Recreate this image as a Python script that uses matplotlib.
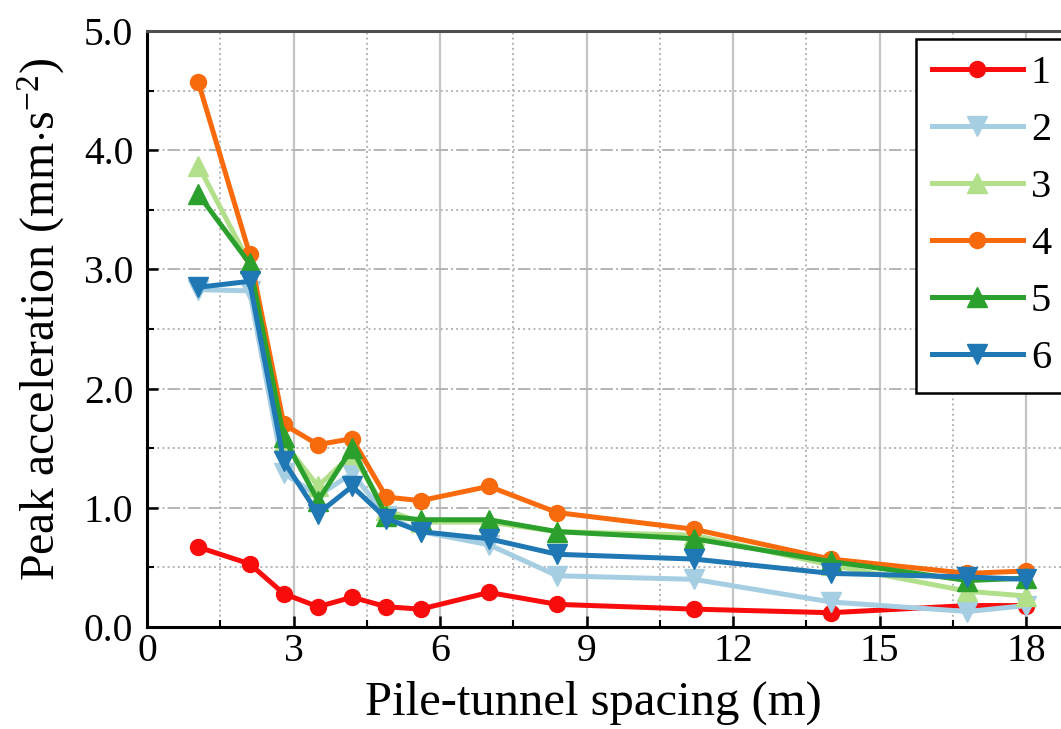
import matplotlib
matplotlib.use('Agg')
import matplotlib.pyplot as plt
from matplotlib.ticker import MultipleLocator, FormatStrFormatter

plt.rcParams['font.family'] = ['Liberation Serif', 'DejaVu Serif']
plt.rcParams['mathtext.fontset'] = 'custom'
plt.rcParams['mathtext.rm'] = 'Liberation Serif'
plt.rcParams['mathtext.it'] = 'Liberation Serif:italic'

# pile-tunnel spacing (m)
spacing = [1.05, 2.1, 2.8, 3.5, 4.2, 4.9, 5.6, 7.0, 8.4, 11.2, 14.0, 16.8, 18.0]

# peak acceleration (mm/s^2) at monitoring points 1-6
acc_1 = [0.67, 0.53, 0.28, 0.17, 0.25, 0.17, 0.15, 0.29, 0.19, 0.15, 0.12, 0.18, 0.18]
acc_2 = [2.83, 2.82, 1.29, 1.10, 1.29, 0.93, 0.80, 0.69, 0.43, 0.40, 0.21, 0.13, 0.18]
acc_3 = [3.87, 3.05, 1.55, 1.18, 1.45, 0.98, 0.88, 0.88, 0.80, 0.77, 0.52, 0.30, 0.26]
acc_4 = [4.57, 3.13, 1.70, 1.53, 1.58, 1.09, 1.06, 1.18, 0.96, 0.82, 0.57, 0.45, 0.47]
acc_5 = [3.63, 3.05, 1.59, 1.06, 1.50, 0.93, 0.90, 0.90, 0.80, 0.74, 0.55, 0.39, 0.41]
acc_6 = [2.85, 2.90, 1.39, 0.95, 1.18, 0.91, 0.80, 0.74, 0.61, 0.57, 0.45, 0.42, 0.40]

labels = ['1', '2', '3', '4', '5', '6']
series = [acc_1, acc_2, acc_3, acc_4, acc_5, acc_6]
colors = ['#f80c0c', '#a6cee3', '#b2df8a', '#f86a0c', '#2ca02c', '#1f77b4']
markers = ['o', 'v', '^', 'o', '^', 'v']

fig = plt.figure(figsize=(10.61, 7.29), dpi=100)
ax = fig.add_axes([0.1386, 0.1399, 0.8745, 0.8176])

for y, lab, c, m in zip(series, labels, colors, markers):
    ms = 11.5 if m == 'o' else 15
    ax.plot(spacing, y, color=c, marker=m, markersize=ms, linewidth=3.6,
            label=lab, zorder=3)

ax.set_xlim(0, 19)
ax.set_ylim(0, 5)
ax.xaxis.set_major_locator(MultipleLocator(3))
ax.xaxis.set_minor_locator(MultipleLocator(1.5))
ax.yaxis.set_major_locator(MultipleLocator(1.0))
ax.yaxis.set_minor_locator(MultipleLocator(0.5))
ax.yaxis.set_major_formatter(FormatStrFormatter('%.1f'))

ax.grid(which='major', axis='x', color='#c4c4c4', linestyle='-', linewidth=1.6)
ax.grid(which='minor', axis='x', color='#b4b4b4', linestyle=':', linewidth=1.4)
ax.grid(which='major', axis='y', color='#b4b4b4', linestyle='-.', linewidth=1.4)
ax.grid(which='minor', axis='y', color='#b4b4b4', linestyle=':', linewidth=1.4)
ax.set_axisbelow(True)

ax.tick_params(which='major', direction='in', length=8, width=1.8, labelsize=28.5)
ax.tick_params(axis='x', which='major', pad=4)
ax.tick_params(axis='y', which='major', pad=10)
ax.tick_params(which='minor', direction='in', length=5, width=1.5)
for side in ['left', 'bottom']:
    ax.spines[side].set_linewidth(2.2)
ax.spines['top'].set_linewidth(2.2)
ax.spines['top'].set_color('#505050')

ax.set_xlabel('Pile-tunnel spacing (m)', fontsize=35, labelpad=8, x=0.481)
ax.set_ylabel(r'Peak acceleration (mm$\cdot$s$^{-2}$)', fontsize=34.5,
              labelpad=12, y=0.517)

leg = ax.legend(loc='upper left', bbox_to_anchor=(916 / 1061, 1 - 39 / 729),
                bbox_transform=fig.transFigure, borderaxespad=0, fontsize=29,
                frameon=True, fancybox=False, framealpha=1, edgecolor='black',
                handlelength=2.25, borderpad=0.4, labelspacing=0.49,
                handletextpad=0.2)
leg.get_frame().set_linewidth(1.8)

fig.savefig('out.png', dpi=100)
